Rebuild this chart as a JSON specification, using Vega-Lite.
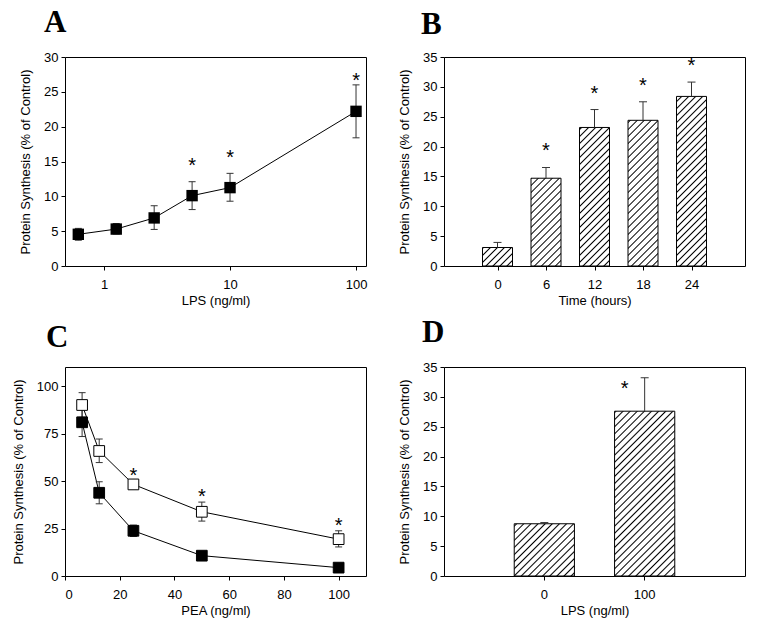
{
"$schema":"https://vega.github.io/schema/vega-lite/v6.json",
"background":"white",
"padding":{"left":11,"top":6,"right":5,"bottom":5},
"columns":2,
"spacing":{"row":101,"column":78},
"bounds":"flush",
"concat":[
{
 "width":301,"height":209,
 "title":{"text":"A","offset":12,"dx":-21},
 "data":{"values":[
  {"lps":0.625,"mean":4.55,"lo":3.7,"hi":5.4,"sig":false},
  {"lps":1.25,"mean":5.3,"lo":4.6,"hi":6.1,"sig":false},
  {"lps":2.5,"mean":6.9,"lo":5.25,"hi":8.65,"sig":false},
  {"lps":5,"mean":10.1,"lo":8.1,"hi":12.1,"sig":true},
  {"lps":10,"mean":11.25,"lo":9.3,"hi":13.3,"sig":true},
  {"lps":100,"mean":22.2,"lo":18.4,"hi":26.0,"sig":true}]},
 "encoding":{"x":{"field":"lps","type":"quantitative","title":"LPS (ng/ml)","scale":{"type":"log","domain":[0.49,120],"nice":false},"axis":{"values":[1,10,100],"format":"~g"}}},
 "layer":[
  {"mark":{"type":"rule","color":"#333","strokeWidth":1},"encoding":{"y":{"field":"lo","type":"quantitative","title":"Protein Synthesis (% of Control)","scale":{"domain":[0,30],"nice":false},"axis":{"values":[0,5,10,15,20,25,30]}},"y2":{"field":"hi"}}},
  {"mark":{"type":"tick","orient":"horizontal","size":7,"thickness":1,"color":"#333","opacity":1},"encoding":{"y":{"field":"hi","type":"quantitative","title":"Protein Synthesis (% of Control)","axis":{"values":[0,5,10,15,20,25,30]}}}},
  {"mark":{"type":"tick","orient":"horizontal","size":7,"thickness":1,"color":"#333","opacity":1},"encoding":{"y":{"field":"lo","type":"quantitative","title":"Protein Synthesis (% of Control)","axis":{"values":[0,5,10,15,20,25,30]}}}},
  {"mark":{"type":"line","color":"#000","strokeWidth":1},"encoding":{"y":{"field":"mean","type":"quantitative","title":"Protein Synthesis (% of Control)","axis":{"values":[0,5,10,15,20,25,30]}}}},
  {"mark":{"type":"point","shape":"square","filled":true,"size":130,"color":"#000","opacity":1,"strokeWidth":0},"encoding":{"y":{"field":"mean","type":"quantitative","title":"Protein Synthesis (% of Control)","axis":{"values":[0,5,10,15,20,25,30]}}}},
  {"transform":[{"filter":"datum.sig"}],"mark":{"type":"text","text":"*","fontSize":20,"font":"Liberation Sans","baseline":"alphabetic","dy":-24,"color":"#000"},"encoding":{"y":{"field":"mean","type":"quantitative","title":"Protein Synthesis (% of Control)","axis":{"values":[0,5,10,15,20,25,30]}}}}
 ]
},
{
 "width":301,"height":209,
 "title":{"text":"B","offset":10.5,"dx":-23},
 "data":{"values":[
  {"time":0,"mean":3.1,"hi":3.95,"sig":false},
  {"time":6,"mean":14.7,"hi":16.5,"sig":true},
  {"time":12,"mean":23.2,"hi":26.2,"sig":true},
  {"time":18,"mean":24.4,"hi":27.5,"sig":true},
  {"time":24,"mean":28.4,"hi":30.8,"sig":true}]},
 "encoding":{"x":{"field":"time","type":"quantitative","title":"Time (hours)","scale":{"domain":[-6,30],"nice":false,"zero":false},"axis":{"values":[0,6,12,18,24]}}},
 "layer":[
  {"mark":{"type":"bar","width":30,"stroke":null,"fill":{"gradient":"linear","x1":0,"y1":0,"x2":0.166,"y2":1.1233,"stops":[
   {"offset":0.01,"color":"#fff"},{"offset":0.016,"color":"#000"},{"offset":0.022,"color":"#fff"},
   {"offset":0.04,"color":"#fff"},{"offset":0.046,"color":"#000"},{"offset":0.052,"color":"#fff"},
   {"offset":0.07,"color":"#fff"},{"offset":0.076,"color":"#000"},{"offset":0.082,"color":"#fff"},
   {"offset":0.1,"color":"#fff"},{"offset":0.106,"color":"#000"},{"offset":0.112,"color":"#fff"},
   {"offset":0.13,"color":"#fff"},{"offset":0.136,"color":"#000"},{"offset":0.142,"color":"#fff"},
   {"offset":0.16,"color":"#fff"},{"offset":0.166,"color":"#000"},{"offset":0.172,"color":"#fff"},
   {"offset":0.19,"color":"#fff"},{"offset":0.196,"color":"#000"},{"offset":0.202,"color":"#fff"},
   {"offset":0.22,"color":"#fff"},{"offset":0.226,"color":"#000"},{"offset":0.232,"color":"#fff"},
   {"offset":0.25,"color":"#fff"},{"offset":0.256,"color":"#000"},{"offset":0.262,"color":"#fff"},
   {"offset":0.28,"color":"#fff"},{"offset":0.286,"color":"#000"},{"offset":0.292,"color":"#fff"},
   {"offset":0.31,"color":"#fff"},{"offset":0.316,"color":"#000"},{"offset":0.322,"color":"#fff"},
   {"offset":0.34,"color":"#fff"},{"offset":0.346,"color":"#000"},{"offset":0.352,"color":"#fff"},
   {"offset":0.37,"color":"#fff"},{"offset":0.376,"color":"#000"},{"offset":0.382,"color":"#fff"},
   {"offset":0.4,"color":"#fff"},{"offset":0.406,"color":"#000"},{"offset":0.412,"color":"#fff"},
   {"offset":0.43,"color":"#fff"},{"offset":0.436,"color":"#000"},{"offset":0.442,"color":"#fff"},
   {"offset":0.46,"color":"#fff"},{"offset":0.466,"color":"#000"},{"offset":0.472,"color":"#fff"},
   {"offset":0.49,"color":"#fff"},{"offset":0.496,"color":"#000"},{"offset":0.502,"color":"#fff"},
   {"offset":0.52,"color":"#fff"},{"offset":0.526,"color":"#000"},{"offset":0.532,"color":"#fff"},
   {"offset":0.55,"color":"#fff"},{"offset":0.556,"color":"#000"},{"offset":0.562,"color":"#fff"},
   {"offset":0.58,"color":"#fff"},{"offset":0.586,"color":"#000"},{"offset":0.592,"color":"#fff"},
   {"offset":0.61,"color":"#fff"},{"offset":0.616,"color":"#000"},{"offset":0.622,"color":"#fff"},
   {"offset":0.64,"color":"#fff"},{"offset":0.646,"color":"#000"},{"offset":0.652,"color":"#fff"},
   {"offset":0.67,"color":"#fff"},{"offset":0.676,"color":"#000"},{"offset":0.682,"color":"#fff"},
   {"offset":0.7,"color":"#fff"},{"offset":0.706,"color":"#000"},{"offset":0.712,"color":"#fff"},
   {"offset":0.73,"color":"#fff"},{"offset":0.736,"color":"#000"},{"offset":0.742,"color":"#fff"},
   {"offset":0.76,"color":"#fff"},{"offset":0.766,"color":"#000"},{"offset":0.772,"color":"#fff"},
   {"offset":0.79,"color":"#fff"},{"offset":0.796,"color":"#000"},{"offset":0.802,"color":"#fff"},
   {"offset":0.82,"color":"#fff"},{"offset":0.826,"color":"#000"},{"offset":0.832,"color":"#fff"},
   {"offset":0.85,"color":"#fff"},{"offset":0.856,"color":"#000"},{"offset":0.862,"color":"#fff"},
   {"offset":0.88,"color":"#fff"},{"offset":0.886,"color":"#000"},{"offset":0.892,"color":"#fff"},
   {"offset":0.91,"color":"#fff"},{"offset":0.916,"color":"#000"},{"offset":0.922,"color":"#fff"},
   {"offset":0.94,"color":"#fff"},{"offset":0.946,"color":"#000"},{"offset":0.952,"color":"#fff"},
   {"offset":0.97,"color":"#fff"},{"offset":0.976,"color":"#000"},{"offset":0.982,"color":"#fff"}]}},
   "encoding":{"y":{"datum":34,"type":"quantitative","title":"Protein Synthesis (% of Control)","scale":{"domain":[0,35],"nice":false},"axis":{"values":[0,5,10,15,20,25,30,35]}},"y2":{"datum":0}}},
  {"mark":{"type":"bar","width":32,"fill":"#fff","stroke":null},"encoding":{"y":{"field":"mean","type":"quantitative","title":"Protein Synthesis (% of Control)","axis":{"values":[0,5,10,15,20,25,30,35]}},"y2":{"datum":34}}},
  {"mark":{"type":"bar","width":30,"fill":"transparent","stroke":"#000","strokeWidth":1},"encoding":{"y":{"field":"mean","type":"quantitative","title":"Protein Synthesis (% of Control)","axis":{"values":[0,5,10,15,20,25,30,35]}},"y2":{"datum":0}}},
  {"mark":{"type":"rule","color":"#333","strokeWidth":1},"encoding":{"y":{"field":"mean","type":"quantitative","title":"Protein Synthesis (% of Control)","axis":{"values":[0,5,10,15,20,25,30,35]}},"y2":{"field":"hi"}}},
  {"mark":{"type":"tick","orient":"horizontal","size":8,"thickness":1,"color":"#333","opacity":1},"encoding":{"y":{"field":"hi","type":"quantitative","title":"Protein Synthesis (% of Control)","axis":{"values":[0,5,10,15,20,25,30,35]}}}},
  {"transform":[{"filter":"datum.sig"}],"mark":{"type":"text","text":"*","fontSize":20,"font":"Liberation Sans","baseline":"alphabetic","dy":-10,"color":"#000"},"encoding":{"y":{"field":"hi","type":"quantitative","title":"Protein Synthesis (% of Control)","axis":{"values":[0,5,10,15,20,25,30,35]}}}}
 ]
},
{
 "width":301,"height":209,
 "title":{"text":"C","offset":13,"dx":-19},
 "data":{"values":[
  {"pea":6.25,"series":"S2","mean":90.0,"lo":83.5,"hi":96.5,"sig":false},
  {"pea":12.5,"series":"S2","mean":65.8,"lo":59.7,"hi":72.1,"sig":false},
  {"pea":25,"series":"S2","mean":48.2,"lo":46.5,"hi":50.0,"sig":true},
  {"pea":50,"series":"S2","mean":33.8,"lo":28.9,"hi":38.9,"sig":true},
  {"pea":100,"series":"S2","mean":19.4,"lo":15.3,"hi":23.8,"sig":true},
  {"pea":6.25,"series":"S1","mean":80.9,"lo":73.4,"hi":88.4,"sig":false},
  {"pea":12.5,"series":"S1","mean":43.8,"lo":38.0,"hi":49.6,"sig":false},
  {"pea":25,"series":"S1","mean":23.8,"lo":20.8,"hi":26.8,"sig":false},
  {"pea":50,"series":"S1","mean":10.7,"lo":9.7,"hi":11.7,"sig":false},
  {"pea":100,"series":"S1","mean":4.4,"lo":3.4,"hi":5.4,"sig":false}]},
 "encoding":{"x":{"field":"pea","type":"quantitative","title":"PEA (ng/ml)","scale":{"domain":[0,110],"nice":false},"axis":{"values":[0,20,40,60,80,100]}}},
 "layer":[
  {"mark":{"type":"line","color":"#000","strokeWidth":1},"encoding":{"y":{"field":"mean","type":"quantitative","title":"Protein Synthesis (% of Control)","scale":{"domain":[0,110],"nice":false},"axis":{"values":[0,25,50,75,100]}},"detail":{"field":"series","type":"nominal"}}},
  {"mark":{"type":"rule","color":"#333","strokeWidth":1},"encoding":{"y":{"field":"lo","type":"quantitative","title":"Protein Synthesis (% of Control)","axis":{"values":[0,25,50,75,100]}},"y2":{"field":"hi"}}},
  {"mark":{"type":"tick","orient":"horizontal","size":7,"thickness":1,"color":"#333","opacity":1},"encoding":{"y":{"field":"hi","type":"quantitative","title":"Protein Synthesis (% of Control)","axis":{"values":[0,25,50,75,100]}}}},
  {"mark":{"type":"tick","orient":"horizontal","size":7,"thickness":1,"color":"#333","opacity":1},"encoding":{"y":{"field":"lo","type":"quantitative","title":"Protein Synthesis (% of Control)","axis":{"values":[0,25,50,75,100]}}}},
  {"mark":{"type":"point","shape":"square","filled":true,"size":115,"stroke":"#000","strokeWidth":1,"opacity":1},"encoding":{"y":{"field":"mean","type":"quantitative","title":"Protein Synthesis (% of Control)","axis":{"values":[0,25,50,75,100]}},"fill":{"field":"series","type":"nominal","scale":{"domain":["S1","S2"],"range":["#000","#fff"]},"legend":null}}},
  {"transform":[{"filter":"datum.sig"}],"mark":{"type":"text","text":"*","fontSize":20,"font":"Liberation Sans","baseline":"alphabetic","dy":1,"color":"#000"},"encoding":{"y":{"field":"hi","type":"quantitative","title":"Protein Synthesis (% of Control)","axis":{"values":[0,25,50,75,100]}}}}
 ]
},
{
 "width":301,"height":209,
 "title":{"text":"D","offset":12,"dx":-22},
 "data":{"values":[
  {"lps":"0","mean":8.75,"hi":8.95,"sig":false},
  {"lps":"100","mean":27.6,"hi":33.2,"sig":true}]},
 "encoding":{"x":{"field":"lps","type":"ordinal","title":"LPS (ng/ml)","scale":{"domain":["0","100"],"paddingInner":0.4,"paddingOuter":0.7},"axis":{"labelAngle":0}}},
 "layer":[
  {"mark":{"type":"bar","width":{"band":1},"stroke":null,"fill":{"gradient":"linear","x1":0,"y1":0,"x2":0.3522,"y2":1.1915,"stops":[
   {"offset":0.01,"color":"#fff"},{"offset":0.0155,"color":"#000"},{"offset":0.021,"color":"#fff"},
   {"offset":0.037,"color":"#fff"},{"offset":0.0425,"color":"#000"},{"offset":0.048,"color":"#fff"},
   {"offset":0.064,"color":"#fff"},{"offset":0.0695,"color":"#000"},{"offset":0.075,"color":"#fff"},
   {"offset":0.091,"color":"#fff"},{"offset":0.0965,"color":"#000"},{"offset":0.102,"color":"#fff"},
   {"offset":0.118,"color":"#fff"},{"offset":0.1235,"color":"#000"},{"offset":0.129,"color":"#fff"},
   {"offset":0.145,"color":"#fff"},{"offset":0.1505,"color":"#000"},{"offset":0.156,"color":"#fff"},
   {"offset":0.172,"color":"#fff"},{"offset":0.1775,"color":"#000"},{"offset":0.183,"color":"#fff"},
   {"offset":0.199,"color":"#fff"},{"offset":0.2045,"color":"#000"},{"offset":0.21,"color":"#fff"},
   {"offset":0.226,"color":"#fff"},{"offset":0.2315,"color":"#000"},{"offset":0.237,"color":"#fff"},
   {"offset":0.253,"color":"#fff"},{"offset":0.2585,"color":"#000"},{"offset":0.264,"color":"#fff"},
   {"offset":0.28,"color":"#fff"},{"offset":0.2855,"color":"#000"},{"offset":0.291,"color":"#fff"},
   {"offset":0.307,"color":"#fff"},{"offset":0.3125,"color":"#000"},{"offset":0.318,"color":"#fff"},
   {"offset":0.334,"color":"#fff"},{"offset":0.3395,"color":"#000"},{"offset":0.345,"color":"#fff"},
   {"offset":0.361,"color":"#fff"},{"offset":0.3665,"color":"#000"},{"offset":0.372,"color":"#fff"},
   {"offset":0.388,"color":"#fff"},{"offset":0.3935,"color":"#000"},{"offset":0.399,"color":"#fff"},
   {"offset":0.415,"color":"#fff"},{"offset":0.4205,"color":"#000"},{"offset":0.426,"color":"#fff"},
   {"offset":0.442,"color":"#fff"},{"offset":0.4475,"color":"#000"},{"offset":0.453,"color":"#fff"},
   {"offset":0.469,"color":"#fff"},{"offset":0.4745,"color":"#000"},{"offset":0.48,"color":"#fff"},
   {"offset":0.496,"color":"#fff"},{"offset":0.5015,"color":"#000"},{"offset":0.507,"color":"#fff"},
   {"offset":0.523,"color":"#fff"},{"offset":0.5285,"color":"#000"},{"offset":0.534,"color":"#fff"},
   {"offset":0.55,"color":"#fff"},{"offset":0.5555,"color":"#000"},{"offset":0.561,"color":"#fff"},
   {"offset":0.577,"color":"#fff"},{"offset":0.5825,"color":"#000"},{"offset":0.588,"color":"#fff"},
   {"offset":0.604,"color":"#fff"},{"offset":0.6095,"color":"#000"},{"offset":0.615,"color":"#fff"},
   {"offset":0.631,"color":"#fff"},{"offset":0.6365,"color":"#000"},{"offset":0.642,"color":"#fff"},
   {"offset":0.658,"color":"#fff"},{"offset":0.6635,"color":"#000"},{"offset":0.669,"color":"#fff"},
   {"offset":0.685,"color":"#fff"},{"offset":0.6905,"color":"#000"},{"offset":0.696,"color":"#fff"},
   {"offset":0.712,"color":"#fff"},{"offset":0.7175,"color":"#000"},{"offset":0.723,"color":"#fff"},
   {"offset":0.739,"color":"#fff"},{"offset":0.7445,"color":"#000"},{"offset":0.75,"color":"#fff"},
   {"offset":0.766,"color":"#fff"},{"offset":0.7715,"color":"#000"},{"offset":0.777,"color":"#fff"},
   {"offset":0.793,"color":"#fff"},{"offset":0.7985,"color":"#000"},{"offset":0.804,"color":"#fff"},
   {"offset":0.82,"color":"#fff"},{"offset":0.8255,"color":"#000"},{"offset":0.831,"color":"#fff"},
   {"offset":0.847,"color":"#fff"},{"offset":0.8525,"color":"#000"},{"offset":0.858,"color":"#fff"},
   {"offset":0.874,"color":"#fff"},{"offset":0.8795,"color":"#000"},{"offset":0.885,"color":"#fff"},
   {"offset":0.901,"color":"#fff"},{"offset":0.9065,"color":"#000"},{"offset":0.912,"color":"#fff"},
   {"offset":0.928,"color":"#fff"},{"offset":0.9335,"color":"#000"},{"offset":0.939,"color":"#fff"},
   {"offset":0.955,"color":"#fff"},{"offset":0.9605,"color":"#000"},{"offset":0.966,"color":"#fff"},
   {"offset":0.982,"color":"#fff"},{"offset":0.9875,"color":"#000"},{"offset":0.993,"color":"#fff"}]}},
   "encoding":{"y":{"datum":34,"type":"quantitative","title":"Protein Synthesis (% of Control)","scale":{"domain":[0,35],"nice":false},"axis":{"values":[0,5,10,15,20,25,30,35]}},"y2":{"datum":0}}},
  {"mark":{"type":"bar","width":{"band":1.04},"fill":"#fff","stroke":null},"encoding":{"y":{"field":"mean","type":"quantitative","title":"Protein Synthesis (% of Control)","axis":{"values":[0,5,10,15,20,25,30,35]}},"y2":{"datum":34}}},
  {"mark":{"type":"bar","width":{"band":1},"fill":"transparent","stroke":"#000","strokeWidth":1},"encoding":{"y":{"field":"mean","type":"quantitative","title":"Protein Synthesis (% of Control)","axis":{"values":[0,5,10,15,20,25,30,35]}},"y2":{"datum":0}}},
  {"mark":{"type":"rule","color":"#333","strokeWidth":1},"encoding":{"y":{"field":"mean","type":"quantitative","title":"Protein Synthesis (% of Control)","axis":{"values":[0,5,10,15,20,25,30,35]}},"y2":{"field":"hi"}}},
  {"mark":{"type":"tick","orient":"horizontal","size":8,"thickness":1,"color":"#333","opacity":1},"encoding":{"y":{"field":"hi","type":"quantitative","title":"Protein Synthesis (% of Control)","axis":{"values":[0,5,10,15,20,25,30,35]}}}},
  {"transform":[{"filter":"datum.sig"}],"mark":{"type":"text","text":"*","fontSize":20,"font":"Liberation Sans","baseline":"alphabetic","dx":-20,"dy":17.7,"color":"#000"},"encoding":{"y":{"field":"hi","type":"quantitative","title":"Protein Synthesis (% of Control)","axis":{"values":[0,5,10,15,20,25,30,35]}}}}
 ]
}
],
"config":{
 "font":"Liberation Sans",
 "view":{"stroke":"#000","strokeWidth":1},
 "title":{"anchor":"start","frame":"group","baseline":"alphabetic","font":"Liberation Serif","fontSize":31,"fontWeight":"bold","color":"#000"},
 "axis":{"grid":false,"domain":false,"labelOverlap":false,"tickColor":"#000","tickSize":4,"labelColor":"#000","labelFont":"Liberation Sans","labelFontSize":13,"titleFont":"Liberation Sans","titleFontSize":13,"titleFontWeight":"normal","titleColor":"#000"},
 "axisX":{"labelPadding":8,"titlePadding":3,"labelAngle":0},
 "axisY":{"labelPadding":3,"titlePadding":11}
}
}
